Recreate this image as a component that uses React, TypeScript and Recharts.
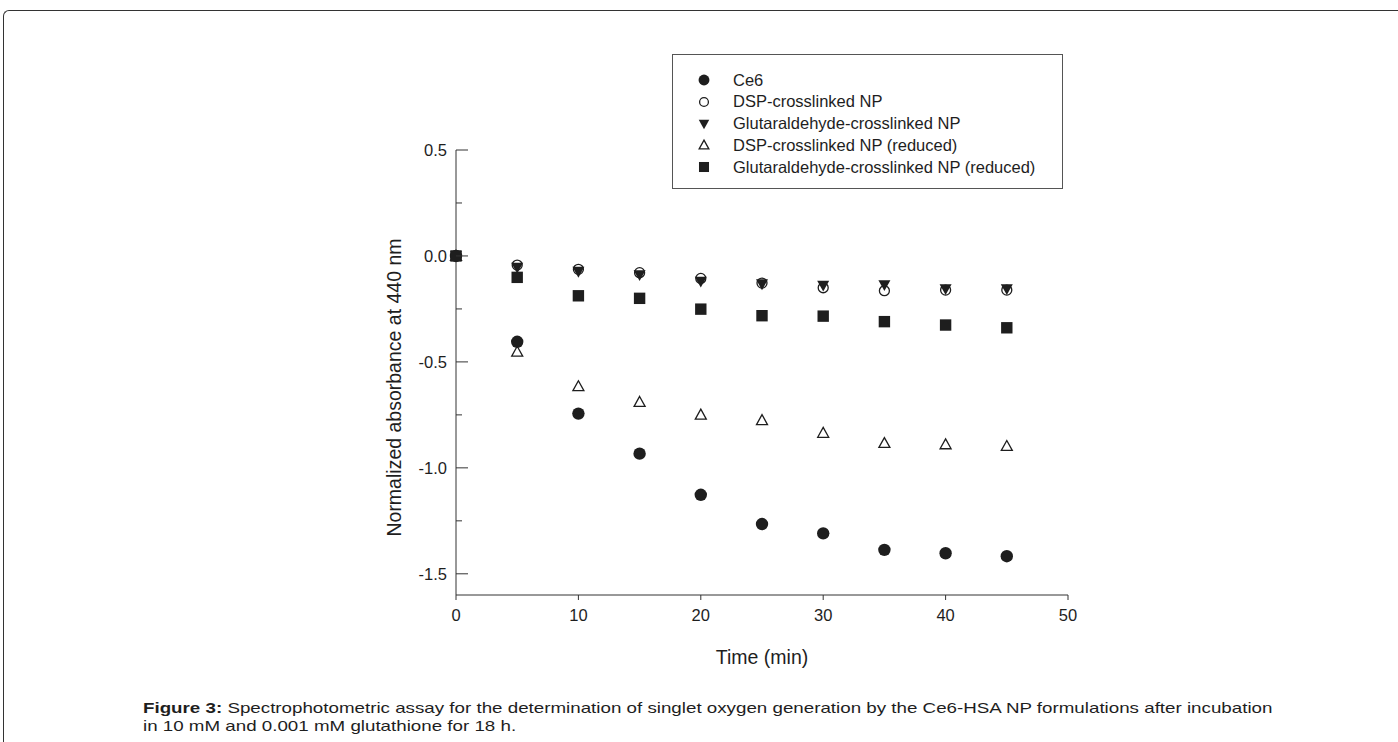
import { Legend, Scatter, ScatterChart, XAxis, YAxis, Label } from 'recharts';

const times = [0, 5, 10, 15, 20, 25, 30, 35, 40, 45];
const ce6 = [0, -0.405, -0.744, -0.933, -1.127, -1.265, -1.309, -1.387, -1.403, -1.417];
const dspNp = [0, -0.043, -0.063, -0.079, -0.106, -0.128, -0.15, -0.164, -0.161, -0.161];
const glutNp = [0, -0.055, -0.074, -0.09, -0.121, -0.133, -0.14, -0.137, -0.156, -0.156];
const dspReduced = [0, -0.452, -0.615, -0.689, -0.749, -0.775, -0.835, -0.883, -0.889, -0.897];
const glutReduced = [0, -0.101, -0.188, -0.2, -0.251, -0.282, -0.284, -0.31, -0.326, -0.339];

const xTicks = [0, 10, 20, 30, 40, 50];
const yTicks = [0.5, 0.25, 0, -0.25, -0.5, -0.75, -1, -1.25, -1.5];

const FONT = '"Liberation Sans", Arial, sans-serif';
const INK = '#1e1e1e';

type Kind = 'dot' | 'ring' | 'down' | 'up' | 'square';

const series: { name: string; values: number[]; kind: Kind }[] = [
  { name: 'Ce6', values: ce6, kind: 'dot' },
  { name: 'DSP-crosslinked NP', values: dspNp, kind: 'ring' },
  { name: 'Glutaraldehyde-crosslinked NP', values: glutNp, kind: 'down' },
  { name: 'DSP-crosslinked NP (reduced)', values: dspReduced, kind: 'up' },
  { name: 'Glutaraldehyde-crosslinked NP (reduced)', values: glutReduced, kind: 'square' },
];

function Marker({ cx, cy, kind, s = 1 }: { cx: number; cy: number; kind: Kind; s?: number }) {
  if (kind === 'dot') return <circle cx={cx} cy={cy} r={6.2 * s} fill={INK} />;
  if (kind === 'ring')
    return <circle cx={cx} cy={cy} r={5 * s} fill="none" stroke={INK} strokeWidth={1.3} />;
  if (kind === 'down') {
    const h = 6 * s;
    return <path d={`M${cx - h},${cy - h * 0.8} L${cx + h},${cy - h * 0.8} L${cx},${cy + h} Z`} fill={INK} />;
  }
  if (kind === 'up') {
    const h = 5.5 * s;
    return (
      <path
        d={`M${cx},${cy - h} L${cx + h},${cy + h * 0.8} L${cx - h},${cy + h * 0.8} Z`}
        fill="none"
        stroke={INK}
        strokeWidth={1.3}
      />
    );
  }
  const a = 5.7 * s;
  return <rect x={cx - a} y={cy - a} width={a * 2} height={a * 2} fill={INK} />;
}

function YTick(props: any) {
  const { x, y, payload } = props;
  const v = payload.value as number;
  const major = Math.abs(v * 2 - Math.round(v * 2)) < 1e-6;
  return (
    <g>
      <line x1={x} x2={x + (major ? 12 : 6)} y1={y} y2={y} stroke="#333" strokeWidth={1} />
      {major && (
        <text x={x - 9} y={y} dy="0.36em" textAnchor="end" fill={INK} fontSize={16.5} fontFamily={FONT}>
          {v.toFixed(1)}
        </text>
      )}
    </g>
  );
}

function LegendBox(props: any) {
  const items = ((props.payload || []) as { value: string }[])
    .slice()
    .sort((a, b) => series.findIndex((s) => s.name === a.value) - series.findIndex((s) => s.name === b.value));
  return (
    <div
      style={{
        width: 391,
        height: 135,
        border: '1px solid #555',
        boxSizing: 'border-box',
        position: 'relative',
        fontFamily: FONT,
        fontSize: 16.5,
        color: INK,
        background: '#fff',
      }}
    >
      {items.map((it, i) => {
        const kind = series.find((s) => s.name === it.value)?.kind || 'dot';
        return (
          <div key={it.value} style={{ position: 'absolute', left: 0, top: 14 + i * 21.75, height: 22, display: 'flex', alignItems: 'center' }}>
            <svg width={60} height={22} style={{ display: 'block' }}>
              <Marker cx={31} cy={11} kind={kind} s={0.88} />
            </svg>
            <span style={{ whiteSpace: 'nowrap' }}>{it.value}</span>
          </div>
        );
      })}
    </div>
  );
}

export default function App() {
  return (
    <div style={{ position: 'absolute', left: 0, top: 0, width: 1398, height: 742, background: '#fff', overflow: 'hidden' }}>
      <div
        style={{
          position: 'absolute',
          left: 3,
          top: 10,
          width: 1420,
          height: 760,
          borderTop: '1px solid #333',
          borderLeft: '1px solid #333',
          borderTopLeftRadius: 6,
        }}
      />
      <div style={{ position: 'absolute', left: 0, top: 0 }}>
        <ScatterChart width={1398} height={742} margin={{ top: 150, right: 330, bottom: 67, left: 386 }}>
          <XAxis
            type="number"
            dataKey="x"
            domain={[0, 50]}
            ticks={xTicks}
            height={80}
            stroke="#333"
            tickSize={5}
            tickMargin={9}
            tick={{ fill: INK, fontSize: 16.5, fontFamily: FONT }}
          >
            <Label
              content={({ viewBox }: any) => (
                <text
                  x={viewBox.x + viewBox.width / 2}
                  y={viewBox.y + 62}
                  dy="0.36em"
                  textAnchor="middle"
                  fill={INK}
                  fontSize={19.5}
                  fontFamily={FONT}
                >
                  Time (min)
                </text>
              )}
            />
          </XAxis>
          <YAxis
            type="number"
            dataKey="y"
            domain={[-1.6, 0.5]}
            ticks={yTicks}
            width={70}
            stroke="#333"
            tickLine={false}
            tickSize={0}
            tickMargin={0}
            tick={<YTick />}
            interval={0}
          >
            <Label
              content={({ viewBox }: any) => {
                const cx = viewBox.x + 8;
                const cy = viewBox.y + viewBox.height / 2 + 15;
                return (
                  <text
                    x={cx}
                    y={cy}
                    transform={`rotate(-90 ${cx} ${cy})`}
                    dy="0.36em"
                    textAnchor="middle"
                    fill={INK}
                    fontSize={19.5}
                    fontFamily={FONT}
                  >
                    Normalized absorbance at 440 nm
                  </text>
                );
              }}
            />
          </YAxis>
          <Legend
            layout="vertical"
            align="center"
            verticalAlign="middle"
            content={<LegendBox />}
            wrapperStyle={{ position: 'absolute', left: 672, top: 54, width: 391, height: 135 }}
          />
          {series.map((s) => (
            <Scatter
              key={s.name}
              name={s.name}
              data={times.map((t, i) => ({ x: t, y: s.values[i] }))}
              isAnimationActive={false}
              shape={(p: any) => <Marker cx={p.cx} cy={p.cy} kind={s.kind} />}
            />
          ))}
        </ScatterChart>
      </div>
      <div
        style={{
          position: 'absolute',
          left: 143,
          top: 699,
          fontFamily: FONT,
          fontSize: 15,
          lineHeight: '17.5px',
          color: INK,
          whiteSpace: 'nowrap',
          transform: 'scaleX(1.25)',
          transformOrigin: 'left top',
        }}
      >
        <b>Figure 3:</b> Spectrophotometric assay for the determination of singlet oxygen generation by the Ce6-HSA NP formulations after incubation
        <br />
        in 10 mM and 0.001 mM glutathione for 18 h.
      </div>
    </div>
  );
}
